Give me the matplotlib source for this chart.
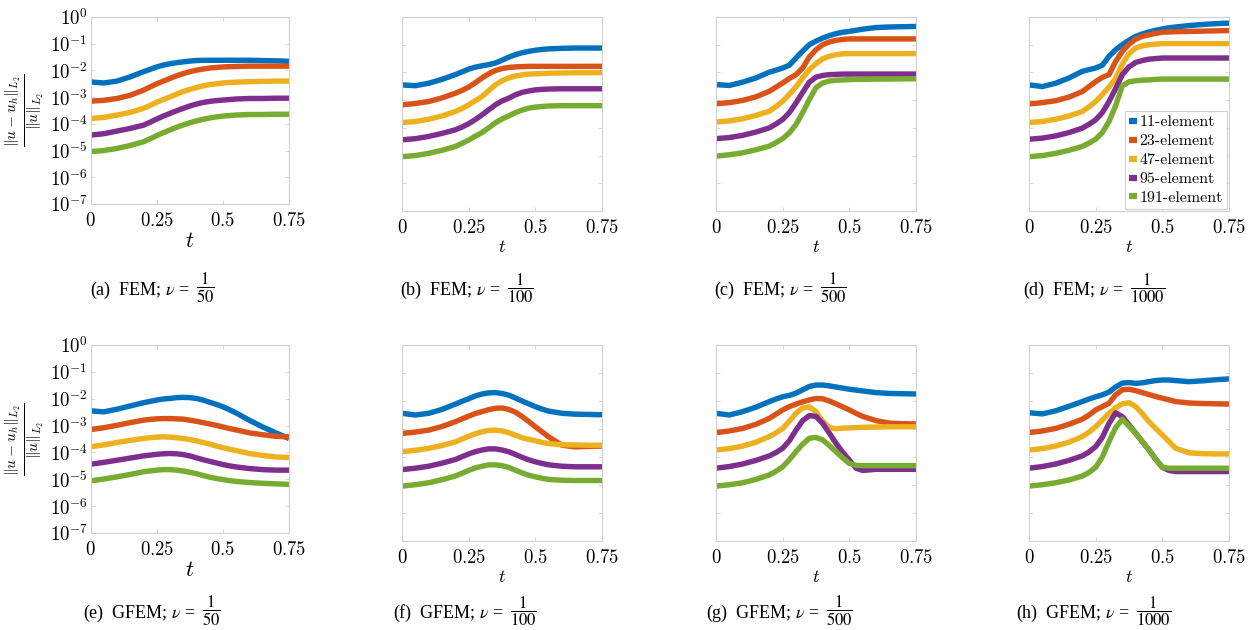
import matplotlib
matplotlib.use("Agg")
import matplotlib.pyplot as plt
import numpy as np

plt.rcParams['mathtext.fontset'] = 'cm'
plt.rcParams['axes.formatter.use_mathtext'] = True

# time samples shared by every curve
t = [0, 0.05, 0.1, 0.15, 0.2, 0.225, 0.25, 0.275, 0.3, 0.325, 0.35, 0.375,
     0.4, 0.425, 0.45, 0.475, 0.5, 0.525, 0.55, 0.6, 0.65, 0.7, 0.75]

mesh_labels = ['11-element', '23-element', '47-element', '95-element', '191-element']
colors = ['#0072BD', '#D95319', '#EDB120', '#7E2F8E', '#77AC30']

# log10 of the relative L2 error, one row per mesh
fem_nu50 = [
    [-2.43,-2.47,-2.40,-2.24,-2.05,-1.96,-1.87,-1.80,-1.75,-1.71,-1.68,-1.65,-1.63,-1.62,-1.62,-1.62,-1.62,-1.62,-1.62,-1.62,-1.63,-1.64,-1.66],
    [-3.15,-3.12,-3.05,-2.93,-2.74,-2.62,-2.50,-2.40,-2.30,-2.20,-2.12,-2.05,-1.99,-1.95,-1.91,-1.89,-1.87,-1.86,-1.85,-1.84,-1.84,-1.84,-1.84],
    [-3.80,-3.76,-3.67,-3.57,-3.42,-3.31,-3.19,-3.09,-2.99,-2.89,-2.79,-2.71,-2.64,-2.58,-2.53,-2.50,-2.47,-2.45,-2.44,-2.42,-2.41,-2.40,-2.40],
    [-4.42,-4.37,-4.27,-4.17,-4.05,-3.94,-3.82,-3.71,-3.61,-3.51,-3.42,-3.33,-3.26,-3.20,-3.16,-3.13,-3.11,-3.09,-3.07,-3.05,-3.05,-3.04,-3.04],
    [-5.04,-5.00,-4.92,-4.81,-4.67,-4.56,-4.44,-4.33,-4.23,-4.13,-4.04,-3.96,-3.89,-3.83,-3.78,-3.74,-3.71,-3.69,-3.67,-3.65,-3.65,-3.64,-3.64],
]
fem_nu100 = [
    [-2.45,-2.48,-2.39,-2.25,-2.08,-1.98,-1.88,-1.81,-1.76,-1.72,-1.66,-1.56,-1.45,-1.36,-1.29,-1.24,-1.20,-1.17,-1.15,-1.13,-1.12,-1.12,-1.12],
    [-3.17,-3.12,-3.05,-2.92,-2.75,-2.65,-2.53,-2.37,-2.20,-2.05,-1.93,-1.86,-1.82,-1.80,-1.79,-1.78,-1.78,-1.78,-1.78,-1.78,-1.78,-1.78,-1.78],
    [-3.81,-3.77,-3.69,-3.57,-3.41,-3.30,-3.17,-3.02,-2.87,-2.66,-2.45,-2.30,-2.20,-2.13,-2.09,-2.06,-2.05,-2.04,-2.03,-2.02,-2.01,-2.01,-2.01],
    [-4.43,-4.39,-4.31,-4.20,-4.07,-3.97,-3.85,-3.70,-3.53,-3.35,-3.17,-3.03,-2.93,-2.81,-2.72,-2.67,-2.63,-2.61,-2.60,-2.59,-2.59,-2.59,-2.59],
    [-5.04,-5.00,-4.92,-4.81,-4.67,-4.56,-4.44,-4.30,-4.17,-4.00,-3.82,-3.68,-3.57,-3.45,-3.36,-3.29,-3.25,-3.23,-3.21,-3.20,-3.20,-3.20,-3.20],
]
fem_nu500 = [
    [-2.44,-2.47,-2.35,-2.20,-1.99,-1.92,-1.84,-1.74,-1.48,-1.23,-1.00,-0.87,-0.76,-0.67,-0.60,-0.55,-0.52,-0.48,-0.44,-0.38,-0.36,-0.35,-0.34],
    [-3.13,-3.09,-3.01,-2.88,-2.68,-2.53,-2.38,-2.22,-2.08,-1.84,-1.44,-1.18,-1.00,-0.90,-0.84,-0.81,-0.79,-0.79,-0.79,-0.79,-0.79,-0.79,-0.79],
    [-3.79,-3.75,-3.67,-3.55,-3.40,-3.23,-3.04,-2.79,-2.52,-2.20,-1.90,-1.68,-1.51,-1.42,-1.36,-1.33,-1.32,-1.32,-1.32,-1.32,-1.32,-1.32,-1.32],
    [-4.39,-4.35,-4.27,-4.15,-4.00,-3.86,-3.70,-3.45,-3.10,-2.72,-2.35,-2.17,-2.11,-2.08,-2.07,-2.06,-2.06,-2.06,-2.06,-2.06,-2.06,-2.06,-2.06],
    [-5.02,-4.97,-4.90,-4.79,-4.66,-4.53,-4.39,-4.18,-3.88,-3.45,-2.98,-2.55,-2.38,-2.31,-2.28,-2.27,-2.26,-2.25,-2.25,-2.24,-2.24,-2.23,-2.23],
]
fem_nu1000 = [
    [-2.45,-2.51,-2.39,-2.20,-1.96,-1.90,-1.84,-1.74,-1.42,-1.18,-1.00,-0.84,-0.70,-0.61,-0.54,-0.48,-0.43,-0.39,-0.36,-0.31,-0.27,-0.24,-0.22],
    [-3.14,-3.09,-3.02,-2.89,-2.69,-2.51,-2.33,-2.18,-2.08,-1.60,-1.24,-0.98,-0.80,-0.70,-0.64,-0.59,-0.55,-0.54,-0.53,-0.52,-0.51,-0.50,-0.49],
    [-3.81,-3.77,-3.69,-3.57,-3.41,-3.24,-3.05,-2.80,-2.53,-2.22,-1.70,-1.32,-1.12,-1.04,-1.00,-0.98,-0.96,-0.96,-0.96,-0.96,-0.96,-0.96,-0.96],
    [-4.41,-4.37,-4.29,-4.17,-4.01,-3.87,-3.71,-3.45,-3.05,-2.58,-2.08,-1.80,-1.64,-1.57,-1.52,-1.50,-1.48,-1.48,-1.48,-1.48,-1.48,-1.48,-1.48],
    [-5.04,-5.00,-4.92,-4.81,-4.67,-4.55,-4.41,-4.17,-3.77,-3.20,-2.48,-2.34,-2.30,-2.28,-2.27,-2.25,-2.24,-2.24,-2.24,-2.24,-2.24,-2.24,-2.24],
]
gfem_nu50 = [
    [-2.45,-2.49,-2.39,-2.27,-2.15,-2.10,-2.05,-2.01,-1.99,-1.96,-1.95,-1.96,-1.99,-2.05,-2.13,-2.21,-2.30,-2.41,-2.53,-2.80,-3.05,-3.27,-3.48],
    [-3.15,-3.08,-2.99,-2.89,-2.80,-2.77,-2.75,-2.74,-2.74,-2.75,-2.76,-2.80,-2.84,-2.89,-2.94,-2.99,-3.05,-3.11,-3.16,-3.27,-3.34,-3.40,-3.42],
    [-3.79,-3.72,-3.63,-3.55,-3.48,-3.45,-3.43,-3.42,-3.43,-3.45,-3.48,-3.52,-3.57,-3.63,-3.69,-3.76,-3.82,-3.88,-3.93,-4.04,-4.11,-4.17,-4.19],
    [-4.44,-4.37,-4.29,-4.21,-4.13,-4.10,-4.07,-4.05,-4.04,-4.05,-4.08,-4.13,-4.20,-4.27,-4.33,-4.39,-4.45,-4.50,-4.54,-4.60,-4.64,-4.66,-4.66],
    [-5.06,-4.99,-4.91,-4.82,-4.72,-4.69,-4.66,-4.64,-4.64,-4.66,-4.69,-4.74,-4.79,-4.86,-4.92,-4.97,-5.01,-5.05,-5.08,-5.12,-5.15,-5.17,-5.19],
]
gfem_nu100 = [
    [-2.44,-2.50,-2.44,-2.30,-2.11,-2.01,-1.92,-1.82,-1.75,-1.71,-1.70,-1.73,-1.79,-1.89,-2.00,-2.10,-2.20,-2.29,-2.36,-2.44,-2.47,-2.48,-2.49],
    [-3.16,-3.11,-3.04,-2.91,-2.74,-2.64,-2.54,-2.45,-2.38,-2.31,-2.26,-2.25,-2.30,-2.40,-2.55,-2.73,-2.92,-3.10,-3.28,-3.58,-3.64,-3.62,-3.61],
    [-3.81,-3.76,-3.69,-3.59,-3.46,-3.36,-3.26,-3.17,-3.10,-3.05,-3.04,-3.07,-3.13,-3.22,-3.31,-3.37,-3.42,-3.48,-3.52,-3.56,-3.57,-3.58,-3.58],
    [-4.45,-4.40,-4.33,-4.22,-4.09,-3.99,-3.89,-3.81,-3.75,-3.71,-3.71,-3.75,-3.81,-3.91,-4.01,-4.10,-4.17,-4.23,-4.28,-4.33,-4.35,-4.35,-4.35],
    [-5.04,-4.99,-4.92,-4.81,-4.68,-4.58,-4.48,-4.39,-4.33,-4.28,-4.28,-4.31,-4.37,-4.47,-4.57,-4.65,-4.71,-4.76,-4.80,-4.83,-4.84,-4.84,-4.84],
]
gfem_nu500 = [
    [-2.44,-2.50,-2.38,-2.22,-2.02,-1.93,-1.85,-1.80,-1.72,-1.60,-1.48,-1.43,-1.43,-1.46,-1.50,-1.54,-1.58,-1.61,-1.64,-1.70,-1.73,-1.74,-1.75],
    [-3.13,-3.07,-2.98,-2.83,-2.62,-2.47,-2.32,-2.20,-2.11,-2.03,-1.96,-1.91,-1.92,-2.00,-2.10,-2.21,-2.32,-2.44,-2.55,-2.70,-2.79,-2.81,-2.82],
    [-3.75,-3.70,-3.61,-3.47,-3.27,-3.14,-2.98,-2.72,-2.44,-2.25,-2.21,-2.38,-2.72,-2.95,-2.99,-2.97,-2.96,-2.95,-2.94,-2.93,-2.92,-2.92,-2.92],
    [-4.40,-4.34,-4.25,-4.12,-3.96,-3.84,-3.69,-3.42,-3.04,-2.70,-2.52,-2.55,-2.80,-3.15,-3.51,-3.83,-4.11,-4.40,-4.48,-4.44,-4.44,-4.44,-4.44],
    [-5.04,-4.99,-4.92,-4.80,-4.64,-4.51,-4.35,-4.10,-3.81,-3.54,-3.33,-3.30,-3.39,-3.59,-3.81,-4.03,-4.23,-4.30,-4.31,-4.31,-4.31,-4.31,-4.31],
]
gfem_nu1000 = [
    [-2.42,-2.46,-2.35,-2.19,-2.02,-1.93,-1.85,-1.78,-1.68,-1.50,-1.36,-1.34,-1.37,-1.35,-1.31,-1.27,-1.25,-1.25,-1.27,-1.31,-1.28,-1.24,-1.21],
    [-3.13,-3.07,-2.98,-2.83,-2.65,-2.50,-2.32,-2.20,-2.08,-1.78,-1.60,-1.58,-1.63,-1.70,-1.77,-1.84,-1.90,-1.96,-2.02,-2.07,-2.09,-2.10,-2.11],
    [-3.75,-3.70,-3.61,-3.47,-3.27,-3.11,-2.92,-2.68,-2.44,-2.24,-2.10,-2.06,-2.20,-2.45,-2.74,-2.98,-3.21,-3.45,-3.69,-3.85,-3.88,-3.89,-3.89],
    [-4.40,-4.34,-4.25,-4.12,-3.96,-3.82,-3.63,-3.30,-2.80,-2.42,-2.56,-2.85,-3.15,-3.45,-3.75,-4.08,-4.37,-4.48,-4.52,-4.52,-4.52,-4.52,-4.52],
    [-5.04,-4.99,-4.92,-4.82,-4.68,-4.55,-4.37,-4.00,-3.45,-2.95,-2.65,-2.90,-3.15,-3.45,-3.75,-4.08,-4.37,-4.40,-4.40,-4.40,-4.40,-4.40,-4.40],
]

x_ticks = [0, 0.25, 0.5, 0.75]
x_ticklabels = ['$0$', '$0.25$', '$0.5$', '$0.75$']
y_exponents = [0, -1, -2, -3, -4, -5, -6, -7]

panels = [
    (fem_nu50, '(a)', 'FEM', '50'),
    (fem_nu100, '(b)', 'FEM', '100'),
    (fem_nu500, '(c)', 'FEM', '500'),
    (fem_nu1000, '(d)', 'FEM', '1000'),
    (gfem_nu50, '(e)', 'GFEM', '50'),
    (gfem_nu100, '(f)', 'GFEM', '100'),
    (gfem_nu500, '(g)', 'GFEM', '500'),
    (gfem_nu1000, '(h)', 'GFEM', '1000'),
]

W, H = 1257, 630
fig = plt.figure(figsize=(W / 100, H / 100), dpi=100)
renderer = fig.canvas.get_renderer()

# axes boxes in pixel coordinates: left, right, top, bottom
boxes = [
    (90.5, 289, 17, 204), (402, 602, 17, 211), (716, 916, 17, 211), (1029, 1229, 17, 211),
    (90.5, 289, 345, 533), (402, 602, 345, 541), (716, 916, 345, 541), (1029, 1229, 345, 541),
]
caption_x = [90, 400, 714, 1023, 83, 393, 706, 1016]
edge = '#d0d0d0'

for i, ((data, tag, method, denom), (l, r, tp, b)) in enumerate(zip(panels, boxes)):
    ax = fig.add_axes([l / W, 1 - b / H, (r - l) / W, (b - tp) / H])
    for row, c, lab in zip(data, colors, mesh_labels):
        ax.plot(t, 10.0 ** np.asarray(row), color=c, lw=3.9, label=lab,
                solid_joinstyle='round', solid_capstyle='butt')
    ax.set_yscale('log')
    ax.set_xlim(0, 0.75)
    ax.set_ylim(1e-7, 1e0)
    ax.set_xticks(x_ticks)
    ax.set_xticklabels(x_ticklabels)
    ax.set_yticks([10.0 ** e for e in y_exponents])
    ax.yaxis.set_minor_locator(matplotlib.ticker.NullLocator())
    first_col = i in (0, 4)
    if first_col:
        ax.set_yticklabels(['$10^{%d}$' % e for e in y_exponents])
    else:
        ax.set_yticklabels([])
    ax.tick_params(direction='in', length=3, width=0.6, color=edge,
                   labelsize=13.5, pad=5, top=True, right=True)
    ax.tick_params(axis='y', pad=2)
    for s in ax.spines.values():
        s.set_color(edge)
        s.set_linewidth(0.8)
    ax.set_xlabel('$t$', fontsize=16 if first_col else 13, labelpad=1)
    if first_col:
        ax.set_ylabel(r'$\frac{\|u-u_h\|_{L_2}}{\|u\|_{L_2}}$', fontsize=16, labelpad=0)
        ax.yaxis.set_label_coords(-0.225, 0.5)
    if i == 3:
        leg = ax.legend(loc='lower right', bbox_to_anchor=(1.0, 0.0), borderaxespad=0.12,
                        handlelength=0.55, handletextpad=0.15, labelspacing=0.3,
                        borderpad=0.25, fancybox=False, framealpha=1,
                        prop={'family': 'cmr10', 'size': 11.5})
        leg.get_frame().set_edgecolor(edge)
        leg.get_frame().set_linewidth(0.8)
        for h in leg.legend_handles:
            h.set_linewidth(4.5)

    # caption: text part, then the fraction placed right after it
    cy = 289 if i < 4 else 612
    head = fig.text(caption_x[i] / W, 1 - (cy + 6) / H,
                    r'%s  %s; $\nu$ =' % (tag, method),
                    family='Liberation Serif', math_fontfamily='stix',
                    fontsize=13, ha='left', va='baseline')
    ext = head.get_window_extent(renderer)
    fig.text((ext.x1 + 6) / W, 1 - (cy - 1) / H, r'$\dfrac{1}{%s}$' % denom,
             math_fontfamily='stix', fontsize=12, ha='left', va='center')

fig.savefig('out.png', dpi=100)
